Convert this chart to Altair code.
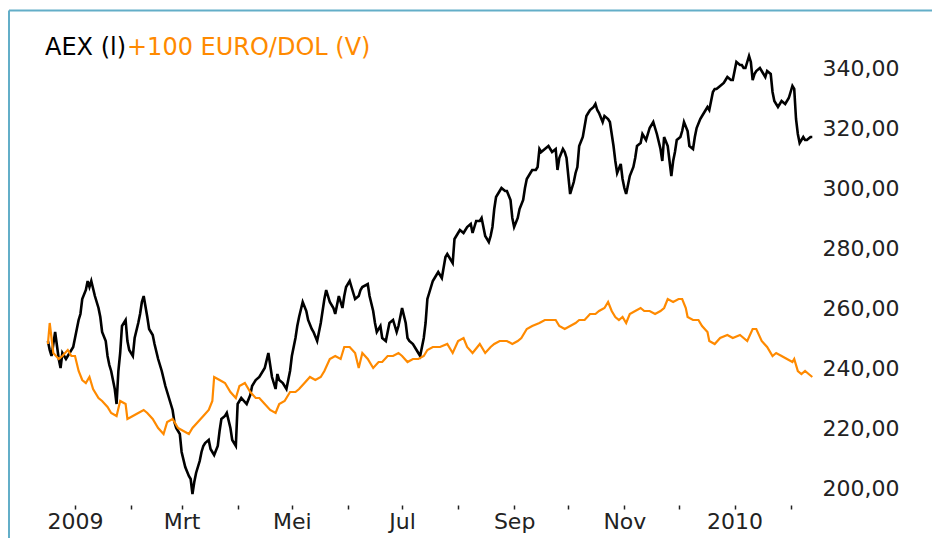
import altair as alt
import pandas as pd

# ---- data (days counted from 1 Jan 2009) ----
base_date = "2009-01-01"

aex_days = [-15, -14, -13, -11, -9, -8, -7, -5, -3, -1, 0, 2, 3, 4, 6, 7, 8, 9, 11, 13,
            14, 15, 17, 18, 19, 20, 22, 23, 24, 25, 26, 28, 29, 30, 32, 33, 35, 36, 37, 38,
            40, 41, 43, 44, 46, 48, 50, 52, 54, 55, 56, 58, 59, 61, 63, 64, 65, 66, 67, 69,
            70, 71, 72, 74, 75, 76, 77, 79, 80, 81, 83, 84, 86, 87, 89, 90, 92, 95, 97, 98,
            100, 102, 105, 107, 109, 111, 112, 113, 115, 117, 119, 120, 122, 123, 124, 126, 128, 129, 131, 132,
            134, 135, 136, 138, 139, 141, 143, 144, 146, 148, 149, 150, 152, 153, 154, 155, 157, 158, 159, 162,
            163, 165, 166, 167, 169, 170, 172, 173, 174, 176, 177, 178, 179, 180, 181, 183, 184, 185, 187, 189,
            190, 191, 193, 194, 195, 196, 198, 200, 201, 203, 205, 206, 209, 210, 212, 213, 215, 216, 217, 219,
            220, 221, 222, 224, 225, 227, 229, 230, 231, 232, 233, 235, 236, 238, 239, 241, 242, 243, 245, 246,
            248, 249, 250, 252, 253, 255, 256, 257, 258, 260, 262, 263, 264, 266, 267, 268, 270, 271, 272, 274,
            276, 277, 278, 279, 281, 283, 284, 285, 287, 288, 289, 290, 292, 293, 295, 296, 298, 299, 300, 302,
            303, 304, 305, 307, 309, 310, 311, 313, 314, 315, 316, 318, 320, 321, 322, 324, 325, 326, 328, 330,
            331, 332, 333, 335, 336, 337, 339, 340, 342, 343, 344, 346, 347, 349, 350, 351, 353, 354, 355, 357,
            359, 360, 361, 363, 364, 365, 366, 368, 369, 370, 371, 373, 374, 375, 376, 377, 379, 381, 382, 383,
            385, 386, 387, 389, 390, 391, 393, 395, 396, 397, 398, 399, 400, 401, 403, 404, 405, 407, 408]
aex_values = [249, 246, 244, 252, 243, 240, 245, 243, 245, 247, 250, 256, 258, 263, 266, 269, 267, 269, 264, 260,
              257, 252, 249, 244, 241, 239, 233, 228, 239, 245, 254, 256, 249, 246, 244, 250, 255, 258, 262, 264,
              257, 253, 251, 248, 243, 239, 234, 230, 226, 222, 220, 218, 212, 207, 204, 203, 198, 202, 205, 209,
              212, 214, 215, 216, 213, 212, 211, 214, 219, 223, 224, 225, 220, 216, 214, 228, 230, 228, 231, 234,
              236, 237, 240, 245, 237, 233, 238, 236, 235, 233, 239, 244, 250, 254, 257, 262, 259, 256, 253, 252,
              249, 252, 255, 263, 266, 262, 260, 258, 264, 260, 264, 267, 269, 267, 265, 263, 264, 266, 267, 268,
              264, 259, 255, 252, 254, 250, 249, 252, 255, 256, 254, 252, 254, 257, 260, 255, 250, 249, 248, 246,
              245, 244, 250, 255, 263, 265, 269, 271, 272, 270, 277, 278, 275, 283, 285, 286, 285, 286, 287, 288,
              285, 287, 289, 289, 290, 284, 282, 284, 287, 293, 297, 299, 300, 299, 299, 296, 290, 287, 290, 293,
              296, 300, 303, 305, 306, 306, 307, 313, 312, 313, 314, 313, 312, 313, 306, 310, 313, 312, 310, 298,
              302, 305, 307, 314, 317, 324, 325, 326, 327, 328, 326, 325, 322, 324, 323, 322, 314, 309, 305, 308,
              303, 300, 298, 304, 307, 310, 314, 315, 318, 317, 316, 320, 322, 320, 318, 313, 309, 317, 314, 304,
              309, 312, 316, 317, 319, 322, 319, 314, 313, 317, 320, 323, 324, 326, 327, 326, 332, 333, 333, 334,
              335, 336, 337, 336, 336, 339, 342, 341, 341, 340, 340, 344, 342, 336, 338, 339, 340, 338, 337, 339,
              338, 332, 329, 327, 328, 329, 328, 330, 332, 334, 333, 323, 318, 315, 317, 316, 316, 317, 317]

eur_days = [-15, -14, -12, -9, -7, -4, -2, 0, 2, 4, 6, 8, 10, 13, 15, 18, 20, 23, 25, 28,
            29, 32, 35, 38, 40, 43, 46, 49, 51, 54, 57, 60, 63, 65, 68, 71, 74, 76, 77, 80,
            83, 86, 89, 91, 94, 97, 100, 102, 105, 108, 111, 113, 116, 119, 122, 124, 127, 130, 133, 136,
            138, 141, 144, 147, 149, 152, 155, 157, 159, 162, 165, 168, 170, 173, 176, 179, 181, 184, 187, 190,
            193, 195, 198, 202, 206, 209, 212, 215, 217, 220, 224, 227, 230, 232, 235, 239, 242, 245, 247, 250,
            253, 257, 260, 263, 266, 268, 271, 274, 277, 279, 282, 285, 288, 290, 293, 295, 297, 299, 301, 303,
            305, 307, 310, 313, 315, 318, 321, 324, 326, 328, 331, 334, 336, 338, 339, 342, 345, 347, 350, 351,
            354, 357, 361, 364, 368, 372, 375, 377, 380, 383, 386, 388, 391, 394, 397, 398, 400, 402, 404, 406,
            408]
eur_values = [248, 255, 245, 243, 244, 246, 244, 244, 239, 236, 235, 237, 233, 230, 229, 227, 225, 224, 229, 228,
              223, 224, 225, 226, 225, 223, 220, 218, 222, 223, 220, 219, 218, 220, 222, 224, 226, 229, 237, 236,
              235, 232, 230, 234, 235, 232, 230, 230, 228, 226, 225, 228, 229, 232, 232, 233, 235, 237, 236, 237,
              239, 243, 244, 243, 247, 247, 245, 240, 245, 243, 240, 242, 242, 244, 244, 245, 244, 242, 243, 243,
              244, 246, 247, 247, 248, 245, 249, 250, 247, 245, 248, 245, 247, 248, 249, 249, 248, 249, 250, 253,
              254, 255, 256, 256, 256, 254, 253, 254, 255, 256, 256, 258, 258, 259, 260, 262, 259, 257, 256, 257,
              255, 258, 259, 260, 259, 259, 258, 259, 260, 263, 262, 263, 263, 260, 257, 256, 256, 254, 252, 249,
              248, 250, 251, 250, 251, 249, 253, 253, 249, 247, 244, 245, 244, 243, 242, 243, 239, 238, 239, 238,
              237]

title_parts = ["AEX (l)", "+100 EURO/DOL (V)"]
series_colors = ["#000000", "#ff8a00"]
y_ticks = [200, 220, 240, 260, 280, 300, 320, 340]
month_names = ["Jan", "Feb", "Mrt", "Apr", "Mei", "Jun", "Jul", "Aug", "Sep", "Okt", "Nov", "Dec"]
tick_months = [(2009, m) for m in range(1, 13)] + [(2010, 1), (2010, 2)]

# ---- build tables ----
b = pd.Timestamp(base_date)
aex_df = pd.DataFrame({"date": b + pd.to_timedelta(aex_days, unit="D"), "value": aex_values})
eur_df = pd.DataFrame({"date": b + pd.to_timedelta(eur_days, unit="D"), "value": eur_values})
one = pd.DataFrame({"k": [0]})

FONT = "DejaVu Sans"
BORDER = "#63aec8"

month_array = "[" + ",".join("'" + m + "'" for m in month_names) + "]"
x_label_expr = ("month(datum.value) == 0 ? timeFormat(datum.value, '%Y') : "
                "(month(datum.value) % 2 == 0 ? " + month_array + "[month(datum.value)] : '')")

x_enc = alt.X(
    "date:T",
    scale=alt.Scale(domain=[alt.DateTime(year=2008, month=12, date=16, hours=12),
                            alt.DateTime(year=2010, month=2, date=14, hours=12)]),
    axis=alt.Axis(
        title=None,
        values=[alt.DateTime(year=y, month=m, date=1) for (y, m) in tick_months],
        labelExpr=x_label_expr,
        domain=False, grid=False,
        offset=5, tickSize=4, tickWidth=1.5, tickColor="#222222",
        labelPadding=2, labelFont=FONT, labelFontSize=22, labelColor="#222222",
        labelOverlap=False, labelFlush=False,
    ),
)
y_enc = alt.Y(
    "value:Q",
    scale=alt.Scale(domain=[196, 348], nice=False, zero=False),
    axis=alt.Axis(
        title=None, orient="right", values=y_ticks,
        labelExpr="replace(format(datum.value, '.2f'), '.', ',')",
        domain=False, ticks=False, grid=False,
        labelPadding=7, labelFont=FONT, labelFontSize=22, labelColor="#222222",
    ),
)

aex_line = alt.Chart(aex_df).mark_line(color=series_colors[0], strokeWidth=2.6).encode(x=x_enc, y=y_enc)
eur_line = alt.Chart(eur_df).mark_line(color=series_colors[1], strokeWidth=2.2).encode(
    x=alt.X("date:T"), y=alt.Y("value:Q"))

border_top = alt.Chart(one).mark_rule(color=BORDER, strokeWidth=2).encode(
    x=alt.value(-38), x2=alt.value(885), y=alt.value(-33.5), y2=alt.value(-33.5))
border_left = alt.Chart(one).mark_rule(color=BORDER, strokeWidth=2).encode(
    x=alt.value(-38), x2=alt.value(-38), y=alt.value(-33.5), y2=alt.value(494))

title_black = alt.Chart(one).mark_text(
    align="left", baseline="alphabetic", font=FONT, fontSize=24, color=series_colors[0]
).encode(x=alt.value(-2), y=alt.value(11), text=alt.value(title_parts[0]))
title_orange = alt.Chart(one).mark_text(
    align="left", baseline="alphabetic", font=FONT, fontSize=24, color=series_colors[1]
).encode(x=alt.value(80), y=alt.value(11), text=alt.value(title_parts[1]))

chart = alt.layer(aex_line, eur_line, border_top, border_left, title_black, title_orange).properties(
    width=768, height=456,
    padding={"left": 39, "top": 36, "right": 117, "bottom": 38},
    autosize=alt.AutoSizeParams(type="none"),
    background="white",
).configure_view(stroke=None)

chart.save("out.html", embed_options={"renderer": "svg", "actions": False})
